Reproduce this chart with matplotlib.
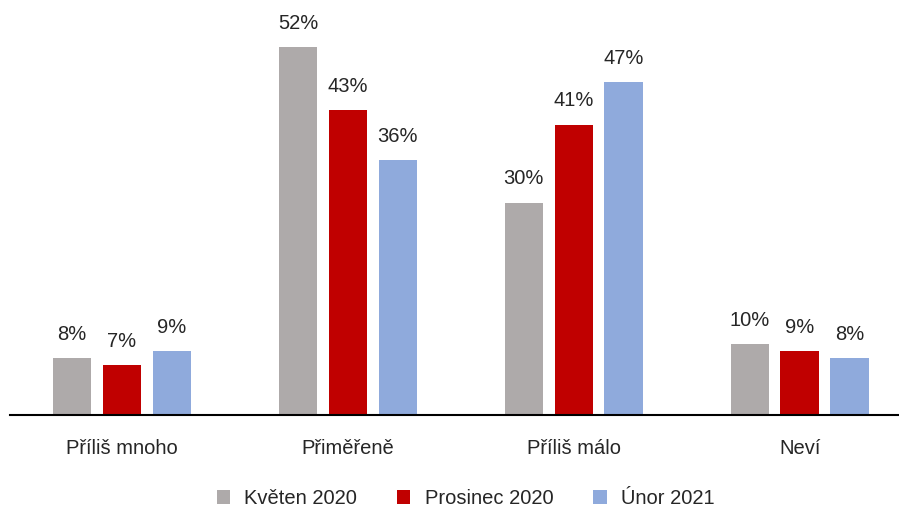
import numpy as np
import matplotlib.pyplot as plt

categories = ['Příliš mnoho', 'Přiměřeně', 'Příliš málo', 'Neví']
series = ['Květen 2020', 'Prosinec 2020', 'Únor 2021']
kveten = [8, 52, 30, 10]
prosinec = [7, 43, 41, 9]
unor = [9, 36, 47, 8]
colors = ['#AEAAAA', '#C00000', '#8FAADC']

plt.rcParams['font.family'] = ['Liberation Sans', 'DejaVu Sans']

fig = plt.figure(figsize=(8.99, 5.08), dpi=100)
ax = fig.add_axes([10 / 899, 1 - 415 / 508, 1 - 10 / 899, 415 / 508])

x = np.arange(len(categories))
w = 0.17
step = 0.221
for k, (vals, name) in enumerate(zip([kveten, prosinec, unor], series)):
    pos = x + (k - 1) * step
    bars = ax.bar(pos, vals, width=w, color=colors[k], label=name)
    for b, v in zip(bars, vals):
        ax.text(b.get_x() + b.get_width() / 2, v + 2.0, f'{v}%',
                ha='center', va='bottom', fontsize=14.5, color='#262626')

ax.set_xlim(-0.496, 3.44)
ax.set_ylim(0, 58.6)
ax.set_yticks([])
ax.set_xticks(x)
ax.set_xticklabels(categories, fontsize=14.5, color='#262626')
ax.tick_params(axis='x', length=0, pad=17)
for s in ['top', 'right', 'left']:
    ax.spines[s].set_visible(False)
ax.spines['bottom'].set_linewidth(1.5)
ax.spines['bottom'].set_color('black')

fig.legend(loc='lower center', bbox_to_anchor=(0.518, -0.036), ncol=3, frameon=False,
           fontsize=14.5, handlelength=0.65, handleheight=0.65, columnspacing=2.0,
           handletextpad=0.7, labelcolor='#262626')

fig.savefig('out.png', dpi=100)
